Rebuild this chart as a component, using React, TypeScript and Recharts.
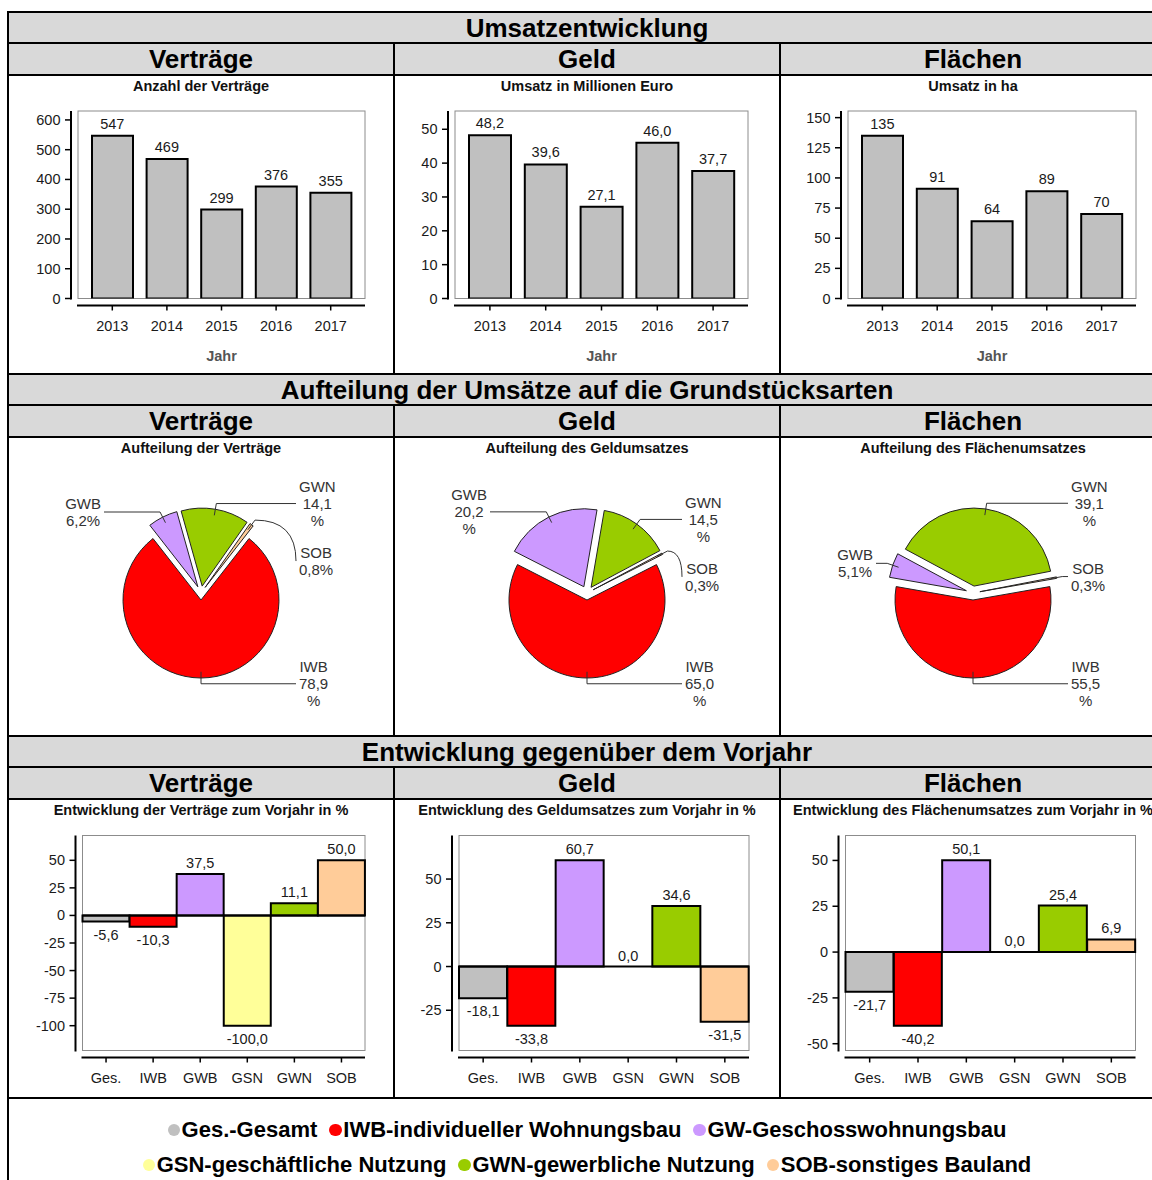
import { ComposedChart, Bar, Scatter, XAxis, YAxis, Cell, ReferenceLine, PieChart, Pie } from "recharts";

const FONT = '"Liberation Sans", Arial, Helvetica, sans-serif';

// Umsatzentwicklung
const years = ["2013", "2014", "2015", "2016", "2017"];
const contractCounts = [547, 469, 299, 376, 355];
const moneyMillions = [48.2, 39.6, 27.1, 46.0, 37.7];
const areaHectares = [135, 91, 64, 89, 70];

// Aufteilung der Umsätze (in %)
const shareTypes = ["IWB", "GWB", "GWN", "SOB"];
const contractShares = [78.9, 6.2, 14.1, 0.8];
const moneyShares = [65.0, 20.2, 14.5, 0.3];
const areaShares = [55.5, 5.1, 39.1, 0.3];

// Entwicklung zum Vorjahr (in %)
const changeTypes = ["Ges.", "IWB", "GWB", "GSN", "GWN", "SOB"];
const contractChange = [-5.6, -10.3, 37.5, -100.0, 11.1, 50.0];
const moneyChange = [-18.1, -33.8, 60.7, 0.0, 34.6, -31.5];
const areaChange = [-21.7, -40.2, 50.1, 0.0, 25.4, 6.9];

const typeColors: Record<string, string> = {
  "Ges.": "#c0c0c0",
  IWB: "#ff0000",
  GWB: "#cc99ff",
  GSN: "#ffff99",
  GWN: "#99cc00",
  SOB: "#ffcc99",
};

const legendRows = [
  [["Ges.", "Ges.-Gesamt"], ["IWB", "IWB-individueller Wohnungsbau"], ["GWB", "GW-Geschosswohnungsbau"]],
  [["GSN", "GSN-geschäftliche Nutzung"], ["GWN", "GWN-gewerbliche Nutzung"], ["SOB", "SOB-sonstiges Bauland"]],
];

// table layout
const COL_X = [9, 395, 781];
const COL_W = 384;
const ROW_OFF = [0, 362, 724];
const CELL_TOP = 76;
const CELL_H = 297;
const YW = 40;

const comma = (v: number, d: number) => v.toFixed(d).replace(".", ",");

let measureCtx: CanvasRenderingContext2D | null = null;
function textWidth(s: string, size: number) {
  if (!measureCtx) measureCtx = document.createElement("canvas").getContext("2d");
  if (!measureCtx) return s.length * size * 0.56;
  measureCtx.font = `${size}px ${FONT}`;
  return measureCtx.measureText(s).width;
}

type Box = { l: number; t: number; r: number; b: number };

interface BarPanelProps {
  col: number;
  row: number;
  title: string;
  cats: string[];
  values: number[];
  domain: [number, number];
  ticks: number[];
  decimals: number;
  box: Box;
  colored?: boolean;
  xTitle?: string;
}

const BarPanel = ({ col, row, title, cats, values, domain, ticks, decimals, box, colored, xTitle }: BarPanelProps) => {
  const left = COL_X[col];
  const top = CELL_TOP + ROW_OFF[row];
  const bl = box.l - left, bt = box.t - top, br = box.r - left, bb = box.b - top;
  const axisX = bl - 7;
  const axisY = bb + 7;
  const data = cats.map((c, i) => ({ cat: c, value: values[i] }));

  const yTick = (p: any) => (
    <g>
      <line x1={axisX - 6} x2={axisX} y1={p.y} y2={p.y} stroke="#000" strokeWidth={1.5} />
      <text x={axisX - 10.5} y={p.y + 5} textAnchor="end" fontSize={14.5} fill="#1a1a1a">
        {String(p.payload.value)}
      </text>
    </g>
  );
  const xTick = (p: any) => (
    <g>
      <line x1={p.x} x2={p.x} y1={axisY} y2={axisY + 5} stroke="#000" strokeWidth={1.5} />
      <text x={p.x} y={axisY + 25} textAnchor="middle" fontSize={14.5} fill="#1a1a1a">
        {p.payload.value}
      </text>
    </g>
  );
  // value labels sit just beyond the end of each bar
  const valueLabel = (p: any) => {
    const v = Number(p.payload?.value ?? p.value);
    const cy = v < 0 ? p.cy + 13 : p.cy - (colored ? 11 : 12);
    return (
      <text x={p.cx} y={cy + 5} textAnchor="middle" fontSize={14.5} fill="#1a1a1a">
        {comma(v, decimals)}
      </text>
    );
  };

  return (
    <div style={{ position: "absolute", left, top, width: COL_W, height: CELL_H }}>
      <div
        style={{
          position: "absolute", left: 0, top: 0, width: COL_W, height: 21, lineHeight: "21px",
          textAlign: "center", fontWeight: "bold", fontSize: 14.5, whiteSpace: "nowrap", color: "#111",
        }}
      >
        {title}
      </div>
      <svg style={{ position: "absolute", left: 0, top: 0 }} width={COL_W} height={CELL_H}>
        <rect x={bl} y={bt} width={br - bl} height={bb - bt} fill="none" stroke="#8c8c8c" strokeWidth={1} />
        <line x1={axisX} x2={axisX} y1={bt} y2={bb + 1} stroke="#000" strokeWidth={2} />
        <line x1={bl - 1} x2={br} y1={axisY} y2={axisY} stroke="#000" strokeWidth={2} />
        {xTitle && (
          <text x={(bl + br) / 2} y={285} textAnchor="middle" fontSize={14.5} fontWeight="bold" fill="#555">
            {xTitle}
          </text>
        )}
      </svg>
      <div style={{ position: "absolute", left: 0, top: 0 }}>
        <ComposedChart
          width={COL_W}
          height={CELL_H}
          data={data}
          margin={{ top: bt, right: COL_W - br, bottom: 0, left: bl - YW }}
          barCategoryGap={colored ? 0 : 7}
        >
          <XAxis
            dataKey="cat"
            type="category"
            height={CELL_H - bb}
            axisLine={false}
            tickLine={false}
            tick={xTick}
            interval={0}
            padding={colored ? { left: 0, right: 0 } : { left: 7, right: 7 }}
          />
          <YAxis
            type="number"
            width={YW}
            domain={domain}
            ticks={ticks}
            allowDataOverflow
            interval={0}
            axisLine={false}
            tickLine={false}
            tick={yTick}
          />
          {colored && <ReferenceLine y={0} stroke="#000" strokeWidth={2} />}
          <Bar dataKey="value" fill="#c0c0c0" stroke="#000" strokeWidth={2} isAnimationActive={false}>
            {colored && data.map((d) => <Cell key={d.cat} fill={typeColors[d.cat]} />)}
          </Bar>
          <Scatter dataKey="value" isAnimationActive={false} shape={valueLabel} />
        </ComposedChart>
      </div>
    </div>
  );
};

const RAD = Math.PI / 180;
const PIE_R = 78;
const EXPLODE = 7;
const LABEL_FS = 15;
const LABEL_LH = 17;

function layoutPie(values: number[], cx: number, cy: number) {
  const total = values.reduce((a, b) => a + b, 0);
  let angle = -90 + (values[0] / total) * 180;
  const slices = values.map((v, i) => {
    const sweep = (v / total) * 360;
    const start = angle;
    const end = angle - sweep;
    angle = end;
    const mid = ((start + end) / 2) * RAD;
    const dx = Math.cos(mid);
    const dy = -Math.sin(mid);
    const ox = cx + EXPLODE * dx;
    const oy = cy + EXPLODE * dy;
    const ax = ox + 0.92 * PIE_R * dx;
    const ay = oy + 0.92 * PIE_R * dy;
    const ex = ax + 12 * dx;
    const ey = ay + 12 * dy;
    const name = shareTypes[i];
    const txt = comma(v, 1);
    const lines = v >= 10 ? [name, txt, "%"] : [name, txt + "%"];
    return { name, value: v, start, end, ox, oy, ax, ay, ex, ey, right: dx > -0.01, lines, ly: ey };
  });
  for (const side of [true, false]) {
    const list = slices.filter((s) => s.right === side).sort((a, b) => a.ey - b.ey);
    let prevBottom = -Infinity;
    for (const s of list) {
      const half = (s.lines.length * LABEL_LH) / 2;
      s.ly = Math.max(s.ey, prevBottom + 15 + half);
      prevBottom = s.ly + half;
    }
  }
  return slices;
}

const PiePanel = ({ col, title, values }: { col: number; title: string; values: number[] }) => {
  const left = COL_X[col];
  const top = CELL_TOP + ROW_OFF[1];
  const cx = COL_W / 2;
  const cy = 155;
  const slices = layoutPie(values, cx, cy);

  const renderLabel = (s: (typeof slices)[number]) => {
    const lineEnd = s.right ? cx + 95 : cx - 97;
    const maxW = Math.max(...s.lines.map((t) => textWidth(t, LABEL_FS)));
    const tx = s.right ? lineEnd + 3 + maxW / 2 : lineEnd - 3 - maxW / 2;
    const pushed = Math.abs(s.ly - s.ey) > 0.5;
    const d = pushed
      ? `M${s.ax},${s.ay}L${s.ex},${s.ey}Q${lineEnd},${s.ey} ${lineEnd},${s.ly}`
      : `M${s.ax},${s.ay}L${s.ex},${s.ey}L${lineEnd},${s.ey}`;
    const n = s.lines.length;
    return (
      <g>
        <path d={d} fill="none" stroke="#333" strokeWidth={1} />
        {s.lines.map((t, k) => (
          <text key={k} x={tx} y={s.ly + (k - (n - 1) / 2) * LABEL_LH + 5.5} textAnchor="middle" fontSize={LABEL_FS} fill="#333">
            {t}
          </text>
        ))}
      </g>
    );
  };

  return (
    <div style={{ position: "absolute", left, top, width: COL_W, height: CELL_H }}>
      <div
        style={{
          position: "absolute", left: 0, top: 0, width: COL_W, height: 21, lineHeight: "21px",
          textAlign: "center", fontWeight: "bold", fontSize: 14.5, whiteSpace: "nowrap", color: "#111",
        }}
      >
        {title}
      </div>
      <div style={{ position: "absolute", left: 0, top: 0 }}>
        <PieChart width={COL_W} height={CELL_H} margin={{ top: 0, right: 0, bottom: 0, left: 0 }}>
          {slices.map((s) => (
            <Pie
              key={s.name}
              data={[{ name: s.name, value: s.value }]}
              dataKey="value"
              nameKey="name"
              cx={s.ox}
              cy={s.oy}
              startAngle={s.start}
              endAngle={s.end}
              innerRadius={0}
              outerRadius={PIE_R}
              stroke="#222"
              strokeWidth={1}
              isAnimationActive={false}
              labelLine={false}
              label={() => renderLabel(s)}
            >
              <Cell fill={typeColors[s.name]} />
            </Pie>
          ))}
        </PieChart>
      </div>
    </div>
  );
};

const sectionTitles = ["Umsatzentwicklung", "Aufteilung der Umsätze auf die Grundstücksarten", "Entwicklung gegenüber dem Vorjahr"];
const columnTitles = ["Verträge", "Geld", "Flächen"];

const TableFrame = () => {
  const black = "#000";
  const gray = "#d9d9d9";
  const els: any[] = [];
  ROW_OFF.forEach((o, r) => {
    els.push(<div key={`ba${r}`} style={{ position: "absolute", left: 9, top: 13 + o, width: 1156, height: 29, background: gray }} />);
    els.push(<div key={`bb${r}`} style={{ position: "absolute", left: 9, top: 44 + o, width: 1156, height: 30, background: gray }} />);
    els.push(
      <div
        key={`ta${r}`}
        style={{
          position: "absolute", left: 9, top: 13 + o, width: 1156, height: 29, lineHeight: "30px",
          textAlign: "center", fontWeight: "bold", fontSize: 26, whiteSpace: "nowrap",
        }}
      >
        {sectionTitles[r]}
      </div>
    );
    columnTitles.forEach((t, c) =>
      els.push(
        <div
          key={`tb${r}${c}`}
          style={{
            position: "absolute", left: COL_X[c], top: 44 + o, width: COL_W, height: 30, lineHeight: "31px",
            textAlign: "center", fontWeight: "bold", fontSize: 26,
          }}
        >
          {t}
        </div>
      )
    );
    [11, 42, 74].forEach((y) =>
      els.push(<div key={`h${r}${y}`} style={{ position: "absolute", left: 7, top: y + o, width: 1162, height: 2, background: black }} />)
    );
    [393, 779].forEach((x) =>
      els.push(<div key={`v${r}${x}`} style={{ position: "absolute", left: x, top: 42 + o, width: 2, height: 333, background: black }} />)
    );
  });
  els.push(<div key="hend" style={{ position: "absolute", left: 7, top: 1097, width: 1162, height: 2, background: black }} />);
  els.push(<div key="vl" style={{ position: "absolute", left: 7, top: 11, width: 2, height: 1200, background: black }} />);
  els.push(<div key="vr" style={{ position: "absolute", left: 1165, top: 11, width: 2, height: 1200, background: black }} />);
  return <>{els}</>;
};

const LegendBlock = () => (
  <>
    {legendRows.map((items, r) => (
      <div
        key={r}
        style={{
          position: "absolute", left: 9, width: 1156, top: 1130 + r * 35 - 14, height: 28,
          display: "flex", justifyContent: "center", alignItems: "center",
          fontWeight: "bold", fontSize: 22, whiteSpace: "nowrap",
        }}
      >
        {items.map(([code, label], i) => (
          <span key={code} style={{ display: "flex", alignItems: "center", marginLeft: i ? 12 : 0 }}>
            <span
              style={{
                display: "inline-block", width: 12.5, height: 12.5, borderRadius: "50%",
                background: typeColors[code], marginRight: 1.5,
              }}
            />
            {label}
          </span>
        ))}
      </div>
    ))}
  </>
);

export default function App() {
  return (
    <div
      style={{
        position: "absolute", left: 0, top: 0, width: 1152, height: 1180, overflow: "hidden",
        background: "#fff", fontFamily: FONT, color: "#000",
      }}
    >
      <TableFrame />

      <BarPanel col={0} row={0} title="Anzahl der Verträge" cats={years} values={contractCounts}
        domain={[0, 630]} ticks={[0, 100, 200, 300, 400, 500, 600]} decimals={0}
        box={{ l: 78, t: 111, r: 365, b: 298.5 }} xTitle="Jahr" />
      <BarPanel col={1} row={0} title="Umsatz in Millionen Euro" cats={years} values={moneyMillions}
        domain={[0, 55.4]} ticks={[0, 10, 20, 30, 40, 50]} decimals={1}
        box={{ l: 455, t: 111, r: 748, b: 298.5 }} xTitle="Jahr" />
      <BarPanel col={2} row={0} title="Umsatz in ha" cats={years} values={areaHectares}
        domain={[0, 155.5]} ticks={[0, 25, 50, 75, 100, 125, 150]} decimals={0}
        box={{ l: 848, t: 111, r: 1136, b: 298.5 }} xTitle="Jahr" />

      <PiePanel col={0} title="Aufteilung der Verträge" values={contractShares} />
      <PiePanel col={1} title="Aufteilung des Geldumsatzes" values={moneyShares} />
      <PiePanel col={2} title="Aufteilung des Flächenumsatzes" values={areaShares} />

      <BarPanel col={0} row={2} title="Entwicklung der Verträge zum Vorjahr in %" cats={changeTypes} values={contractChange}
        domain={[-122.5, 72.5]} ticks={[-100, -75, -50, -25, 0, 25, 50]} decimals={1}
        box={{ l: 82.5, t: 835.5, r: 365, b: 1050.5 }} colored />
      <BarPanel col={1} row={2} title="Entwicklung des Geldumsatzes zum Vorjahr in %" cats={changeTypes} values={moneyChange}
        domain={[-48, 74.9]} ticks={[-25, 0, 25, 50]} decimals={1}
        box={{ l: 459, t: 835.5, r: 749, b: 1050.5 }} colored />
      <BarPanel col={2} row={2} title="Entwicklung des Flächenumsatzes zum Vorjahr in %" cats={changeTypes} values={areaChange}
        domain={[-53.7, 63.6]} ticks={[-50, -25, 0, 25, 50]} decimals={1}
        box={{ l: 845.5, t: 835.5, r: 1135.5, b: 1050.5 }} colored />

      <LegendBlock />
    </div>
  );
}
